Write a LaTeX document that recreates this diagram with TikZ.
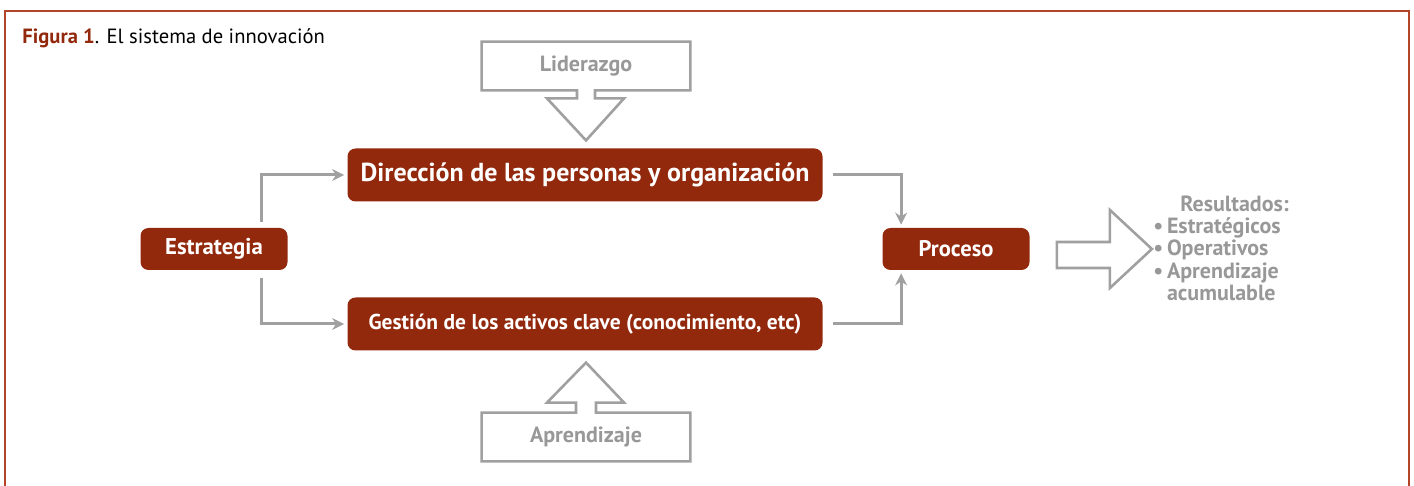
\documentclass[tikz,border=0pt]{standalone}
\usepackage{fontspec}
\setmainfont{PT Sans}
\usetikzlibrary{positioning,calc}
\usetikzlibrary{arrows.meta}
\definecolor{rojo}{RGB}{146,40,12}
\definecolor{marco}{RGB}{180,68,38}
\definecolor{gris}{RGB}{160,160,160}
\definecolor{grist}{RGB}{152,152,152}

\begin{document}
\begin{tikzpicture}[x=0.5pt,y=-0.5pt,
  caja/.style={fill=rojo,text=white,rounded corners=4pt,inner sep=0pt},
  flecha/.style={draw=gris,line width=1.5pt,-{Stealth[length=6pt,width=6pt]},shorten >=1.5pt},
  hueca/.style={draw=gris,line width=1.3pt}]
   \useasboundingbox (0,0) rectangle (1414,486);
   % marco
   \draw[marco,line width=1pt] (5,486) -- (5,11) -- (1409,11) -- (1409,486);
   \node[anchor=base west,inner sep=0pt] (titulo) at (22,44)
      {\fontsize{10.3}{12}\selectfont\textcolor{rojo}{\bfseries Figura 1}. El sistema de innovación};

   \node[caja,minimum width=73.5pt,minimum height=21pt,font=\fontsize{11.4}{14}\selectfont\bfseries] (estr) at (214,249) {Estrategia};
   \node[caja,minimum width=237.5pt,minimum height=26.5pt,font=\fontsize{13}{16}\selectfont\bfseries] (dir) at (585,175) {Dirección de las personas y organización};
   \node[caja,minimum width=237.5pt,minimum height=26.5pt,font=\fontsize{10.75}{12}\selectfont\bfseries] (ges) at (585,324) {Gestión de los activos clave (conocimiento, etc)};
   \node[caja,minimum width=73.5pt,minimum height=21pt,font=\fontsize{11.3}{14}\selectfont\bfseries] (proc) at (956,249) {Proceso};

   \node[minimum width=104pt,minimum height=24pt,inner sep=0pt,text=grist,font=\fontsize{11}{12}\selectfont\bfseries] (lid) at (586,66) {Liderazgo};
   \node[minimum width=104pt,minimum height=24pt,inner sep=0pt,text=grist,font=\fontsize{11}{12}\selectfont\bfseries] (apr) at (586,437) {Aprendizaje};

   \node[anchor=north west,inner sep=0pt,align=left,text=grist,font=\fontsize{11}{11.2}\selectfont\bfseries] (res) at (1153,195)
      {\hspace*{13.5pt}Resultados:\\ •\,Estratégicos\\ •\,Operativos\\ •\,Aprendizaje\\ \phantom{•\,}acumulable};

   % conectores
   \draw[flecha] ($(estr.north)+(47,-6)$) |- (dir.west);
   \draw[flecha] ($(estr.south)+(47,8)$) |- (ges.west);
   \draw[flecha] ($(dir.east)+(10,0)$) -| ($(proc.north west)+(19,0)$);
   \draw[flecha] ($(ges.east)+(10,0)$) -| ($(proc.south west)+(19,0)$);

   % flechas huecas
   \draw[hueca] (lid.south west) -- (lid.north west) -- (lid.north east) -- (lid.south east)
      -- ($(lid.south)+(9,0)$) -- ++(0,8) -- ++(29,0) -- ($(lid.south)+(0,50)$)
      -- ($(lid.south)+(-39,8)$) -- ++(30,0) -- ++(0,-8) -- cycle;
   \draw[hueca] (apr.north west) -- (apr.south west) -- (apr.south east) -- (apr.north east)
      -- ($(apr.north)+(10,0)$) -- ++(0,-10) -- ++(28,0) -- ($(apr.north)+(0,-50)$)
      -- ($(apr.north)+(-39,-10)$) -- ++(29,0) -- ++(0,10) -- cycle;
   \draw[hueca] ($(proc.east)+(27,-7)$) -- ++(53,0) -- ++(0,-32) -- ++(42,39)
      -- ++(-42,39) -- ++(0,-20) -- ++(-53,0) -- cycle;
\end{tikzpicture}
\end{document}
